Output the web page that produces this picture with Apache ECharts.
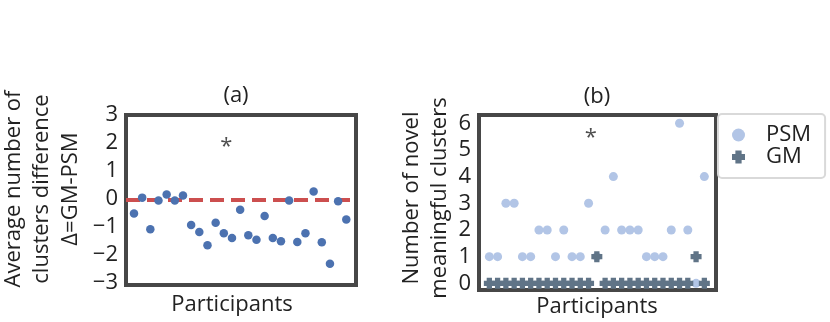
<!DOCTYPE html>
<html>
<head>
<meta charset="utf-8">
<script src="https://cdn.jsdelivr.net/npm/echarts@6/dist/echarts.min.js"></script>
<style>
  html, body { margin: 0; padding: 0; background: #fff; }
  #chart { width: 830px; height: 322px; }
</style>
</head>
<body>
<div id="chart"></div>
<script>
// Data
const participants = [1, 2, 3, 4, 5, 6, 7, 8, 9, 10, 11, 12, 13, 14, 15, 16, 17, 18, 19, 20, 21, 22, 23, 24, 25, 26, 27];
// (a) average number of clusters difference, GM - PSM
const diffA = [-0.53, 0.04, -1.09, -0.06, 0.15, -0.06, 0.12, -0.94, -1.19, -1.67, -0.86, -1.24, -1.41, -0.39,
               -1.31, -1.47, -0.62, -1.41, -1.52, -0.06, -1.55, -1.24, 0.26, -1.56, -2.33, -0.09, -0.74];
const refLineA = -0.05;
// (b) number of novel meaningful clusters
const psm = [1, 1, 3, 3, 1, 1, 2, 2, 1, 2, 1, 1, 3, 1, 2, 4, 2, 2, 2, 1, 1, 1, 2, 6, 2, 0, 4];
const gm  = [0, 0, 0, 0, 0, 0, 0, 0, 0, 0, 0, 0, 0, 1, 0, 0, 0, 0, 0, 0, 0, 0, 0, 0, 0, 1, 0];
const ticksA = [-3, -2, -1, 0, 1, 2, 3];
const ticksB = [0, 1, 2, 3, 4, 5, 6];
// significance marks [participant position, value]
const starA = [12.3, 1.85];
const starB = [13.26, 5.47];

const FONT = 'Open Sans';
const FS = 22;
const txt = '#222';
const frame = '#474747';
const plusPath = 'path://M2.6,0H7.4V2.6H10V7.4H7.4V10H2.6V7.4H0V2.6H2.6Z';

function toPairs(ys) { return participants.map((p, i) => [p, ys[i]]); }
const minus = v => String(v).replace('-', '\u2212');

const axisCommonY = (ticks) => ({
    type: 'value',
    axisLine: { show: false },
    axisTick: { show: false },
    splitLine: { show: false },
    axisLabel: {
        customValues: ticks,
        formatter: minus,
        color: txt,
        fontFamily: FONT,
        fontSize: FS
    }
});
const axisCommonX = {
    type: 'value',
    axisLine: { show: false },
    axisTick: { show: false },
    splitLine: { show: false },
    axisLabel: { show: false }
};

const textEl = (text, x, y, extra, lh) => Object.assign({
    type: 'text',
    x: x, y: y,
    style: {
        text: text,
        fontFamily: FONT,
        fontSize: FS,
        lineHeight: lh || FS,
        fill: txt,
        align: 'center', textAlign: 'center',
        verticalAlign: 'middle', textVerticalAlign: 'middle'
    }
}, extra || {});

const option = {
    animation: false,
    grid: [
        { left: 126, top: 115, width: 230, height: 170, show: true, borderColor: frame, borderWidth: 4, backgroundColor: 'transparent' },
        { left: 479, top: 115, width: 237, height: 175, show: true, borderColor: frame, borderWidth: 4, backgroundColor: 'transparent' }
    ],
    xAxis: [
        Object.assign({ gridIndex: 0, min: 0.02, max: 28.19 }, axisCommonX),
        Object.assign({ gridIndex: 1, min: -0.25, max: 28.41 }, axisCommonX)
    ],
    yAxis: [
        Object.assign({ gridIndex: 0, min: -3.09, max: 3.0 }, axisCommonY(ticksA)),
        Object.assign({ gridIndex: 1, min: -0.25, max: 6.31 }, axisCommonY(ticksB))
    ],
    legend: {
        orient: 'vertical',
        left: 718, top: 114,
        padding: [10, 14, 10, 14],
        itemWidth: 13, itemHeight: 13, itemGap: 0,
        backgroundColor: '#fff',
        borderColor: '#d9d9d9', borderWidth: 2, borderRadius: 4,
        textStyle: { fontFamily: FONT, fontSize: FS, color: txt, lineHeight: 22, padding: [0, 0, 0, 16] },
        data: [
            { name: 'PSM', icon: 'circle' },
            { name: 'GM', icon: plusPath }
        ]
    },
    graphic: [
        textEl('(a)', 236, 96),
        textEl('(b)', 597, 97),
        textEl('Participants', 232, 305),
        textEl('Participants', 597, 307),
        textEl('Average number of\nclusters difference\n\u0394=GM-PSM', 42, 189, { rotation: Math.PI / 2 }, 28.5),
        textEl('Number of novel\nmeaningful clusters', 426, 198, { rotation: Math.PI / 2 }, 28)
    ],
    series: [
        {
            name: 'diff',
            type: 'scatter',
            xAxisIndex: 0, yAxisIndex: 0,
            symbolSize: 8.5,
            itemStyle: { color: '#4c72b0', opacity: 1 },
            data: toPairs(diffA),
            z: 3,
            markLine: {
                silent: true,
                symbol: 'none',
                label: { show: false },
                lineStyle: { color: '#cc4f4f', width: 4, type: [14, 7], opacity: 1 },
                data: [{ yAxis: refLineA }],
                z: 2
            }
        },
        {
            name: 'starA',
            type: 'scatter',
            xAxisIndex: 0, yAxisIndex: 0,
            symbolSize: 0,
            label: { show: true, formatter: '*', position: 'inside', fontFamily: FONT, fontSize: FS, color: txt },
            data: [starA]
        },
        {
            name: 'PSM',
            type: 'scatter',
            xAxisIndex: 1, yAxisIndex: 1,
            symbolSize: 9,
            itemStyle: { color: '#b2c5e6', opacity: 1 },
            data: toPairs(psm)
        },
        {
            name: 'GM',
            type: 'scatter',
            xAxisIndex: 1, yAxisIndex: 1,
            symbol: plusPath,
            symbolSize: 11,
            itemStyle: { color: '#607487', opacity: 1 },
            data: toPairs(gm)
        },
        {
            name: 'starB',
            type: 'scatter',
            xAxisIndex: 1, yAxisIndex: 1,
            symbolSize: 0,
            label: { show: true, formatter: '*', position: 'inside', fontFamily: FONT, fontSize: FS, color: txt },
            data: [starB]
        }
    ]
};

const myChart = echarts.init(document.getElementById('chart'));
myChart.setOption(option);
</script>
</body>
</html>
